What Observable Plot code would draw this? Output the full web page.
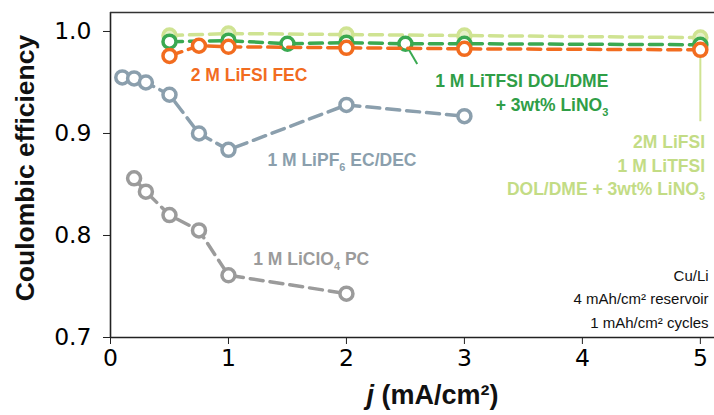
<!DOCTYPE html>
<html>
<head>
<meta charset="utf-8">
<script src="https://cdn.jsdelivr.net/npm/d3@7"></script>
<script src="https://cdn.jsdelivr.net/npm/@observablehq/plot@0.6"></script>
<style>
  html, body { margin: 0; padding: 0; background: #fff; }
  svg { display: block; }
</style>
</head>
<body>
<div id="chart"></div>
<script>
// ---- data ----
const jLiClO4 = [0.2, 0.3, 0.5, 0.75, 1, 2];
const ceLiClO4 = [0.856, 0.843, 0.820, 0.805, 0.761, 0.743];

const jLiPF6 = [0.1, 0.2, 0.3, 0.5, 0.75, 1, 2, 3];
const ceLiPF6 = [0.955, 0.954, 0.950, 0.938, 0.900, 0.884, 0.928, 0.917];

const jFEC = [0.5, 0.75, 1, 2, 3, 5];
const ceFEC = [0.976, 0.986, 0.985, 0.984, 0.983, 0.982];

const jDOL = [0.5, 1, 1.5, 2, 2.5, 3, 5];
const ceDOL = [0.990, 0.991, 0.988, 0.989, 0.988, 0.988, 0.987];

const jDual = [0.5, 1, 2, 3, 5];
const ceDual = [0.996, 0.998, 0.997, 0.996, 0.994];

const xTicks = [0, 1, 2, 3, 4, 5];
const yTicks = [0.7, 0.8, 0.9, 1.0];

const seriesNames = ["1 M LiClO_4 PC", "1 M LiPF_6 EC/DEC", "2M LiFSI / 1 M LiTFSI", "1 M LiTFSI DOL/DME + 3wt% LiNO_3", "2 M LiFSI FEC"];
const seriesColors = ["#9b9b9b", "#8b9fad", "#cfe392", "#3aa951", "#f26c1f"];

// ---- build tables ----
const toRows = (js, ces) => js.map((j, i) => ({j, ce: ces[i]}));
const series = [
  toRows(jLiClO4, ceLiClO4),
  toRows(jLiPF6, ceLiPF6),
  toRows(jDual, ceDual),
  toRows(jDOL, ceDOL),
  toRows(jFEC, ceFEC)
];

// annotation labels (anchored in data units)
const labels = [
  {j: 0.68, ce: 0.959, text: "2 M LiFSI FEC", color: "#f26c1f", anchor: "start"},
  {j: 4.22, ce: 0.941, text: "1 M LiTFSI DOL/DME\n+ 3wt% LiNO_3", color: "#2f9e47", anchor: "end"},
  {j: 5.04, ce: 0.870, text: "2M LiFSI\n1 M LiTFSI\nDOL/DME + 3wt% LiNO_3", color: "#c3dc85", anchor: "end"},
  {j: 1.33, ce: 0.8755, text: "1 M LiPF_6 EC/DEC", color: "#8b9fad", anchor: "start"},
  {j: 1.21, ce: 0.779, text: "1 M LiClO_4 PC", color: "#9b9b9b", anchor: "start"}
];
const notes = [{j: 5.07, ce: 0.740, text: "Cu/Li\n4 mAh/cm² reservoir\n1 mAh/cm² cycles"}];
const leaders = [
  {x1: 2.5, y1: 0.988, x2: 2.6, y2: 0.968, color: "#3aa951"},
  {x1: 5, y1: 0.985, x2: 5, y2: 0.912, color: "#cfe392"}
];

const yMax = 1.0186, xMax = 5.12;

const marks = [];
// leader lines
leaders.forEach(l => marks.push(Plot.link([l], {x1: "x1", y1: "y1", x2: "x2", y2: "y2", stroke: l.color, strokeWidth: 2})));
// series
series.forEach((rows, i) => {
  marks.push(Plot.line(rows, {x: "j", y: "ce", stroke: seriesColors[i], strokeWidth: 3.5, strokeDasharray: "13,7"}));
  marks.push(Plot.dot(rows, {x: "j", y: "ce", r: 6.5, stroke: seriesColors[i], strokeWidth: 3.5, fill: i === 2 ? "#e6f0c8" : "white"}));
});
// labels
labels.forEach(l => marks.push(Plot.text([l], {
  x: "j", y: "ce", text: "text", fill: l.color, textAnchor: l.anchor,
  fontWeight: "bold", fontSize: 17.5, lineHeight: 1.36, fontFamily: "Liberation Sans, Arial, sans-serif"
})));
marks.push(Plot.text(notes, {
  x: "j", y: "ce", text: "text", fill: "#111", textAnchor: "end",
  fontSize: 15, lineHeight: 1.57, fontFamily: "Liberation Sans, Arial, sans-serif"
}));
// axes
marks.push(Plot.axisY({ticks: yTicks, tickFormat: d3.format(".1f"), tickSize: 7, tickPadding: 12, label: null,
  fontSize: 23.5, fontFamily: "DejaVu Sans, sans-serif", stroke: "#222"}));
marks.push(Plot.axisX({ticks: xTicks, tickFormat: d => String(d), tickSize: 7, tickPadding: 5, label: null,
  fontSize: 23.5, fontFamily: "DejaVu Sans, sans-serif", stroke: "#222"}));
marks.push(Plot.ruleX([0], {stroke: "#222", strokeWidth: 1.6}));
marks.push(Plot.ruleY([0.7], {stroke: "#222", strokeWidth: 1.6}));
marks.push(Plot.ruleY([yMax], {stroke: "#333", strokeWidth: 1.6}));
// axis titles
marks.push(Plot.text(["Coulombic efficiency"], {frameAnchor: "left", textAnchor: "middle", dx: -85, dy: -7, rotate: -90, fontSize: 26.5,
  fontWeight: "bold", fill: "#111", fontFamily: "Liberation Sans, Arial, sans-serif"}));
marks.push(Plot.text(["j (mA/cm²)"], {frameAnchor: "bottom", dx: 20, dy: 66, fontSize: 27,
  fontWeight: "bold", fill: "#111", fontFamily: "Liberation Sans, Arial, sans-serif"}));

const plot = Plot.plot({
  width: 714,
  height: 415,
  marginLeft: 110,
  marginRight: 0,
  marginTop: 12,
  marginBottom: 78,
  style: {background: "white", overflow: "visible"},
  x: {domain: [0, xMax]},
  y: {domain: [0.7, yMax]},
  marks
});

// post-process: subscripts and italic j
const NS = "http://www.w3.org/2000/svg";
plot.querySelectorAll("text, tspan").forEach(el => {
  if (el.children.length) return;
  const t = el.textContent;
  if (t.includes("_")) {
    el.textContent = "";
    const parts = t.split(/_(\d)/);
    parts.forEach((p, i) => {
      if (!p) return;
      const ts = document.createElementNS(NS, "tspan");
      ts.textContent = p;
      if (i % 2 === 1) {
        ts.setAttribute("font-size", "11");
        ts.setAttribute("baseline-shift", "-5");
      }
      el.appendChild(ts);
    });
  } else if (t === "j (mA/cm²)") {
    el.textContent = "";
    const a = document.createElementNS(NS, "tspan");
    a.textContent = "j";
    a.setAttribute("font-style", "italic");
    const b = document.createElementNS(NS, "tspan");
    b.textContent = " (mA/cm²)";
    el.appendChild(a); el.appendChild(b);
  }
});

document.getElementById("chart").appendChild(plot);
</script>
</body>
</html>
